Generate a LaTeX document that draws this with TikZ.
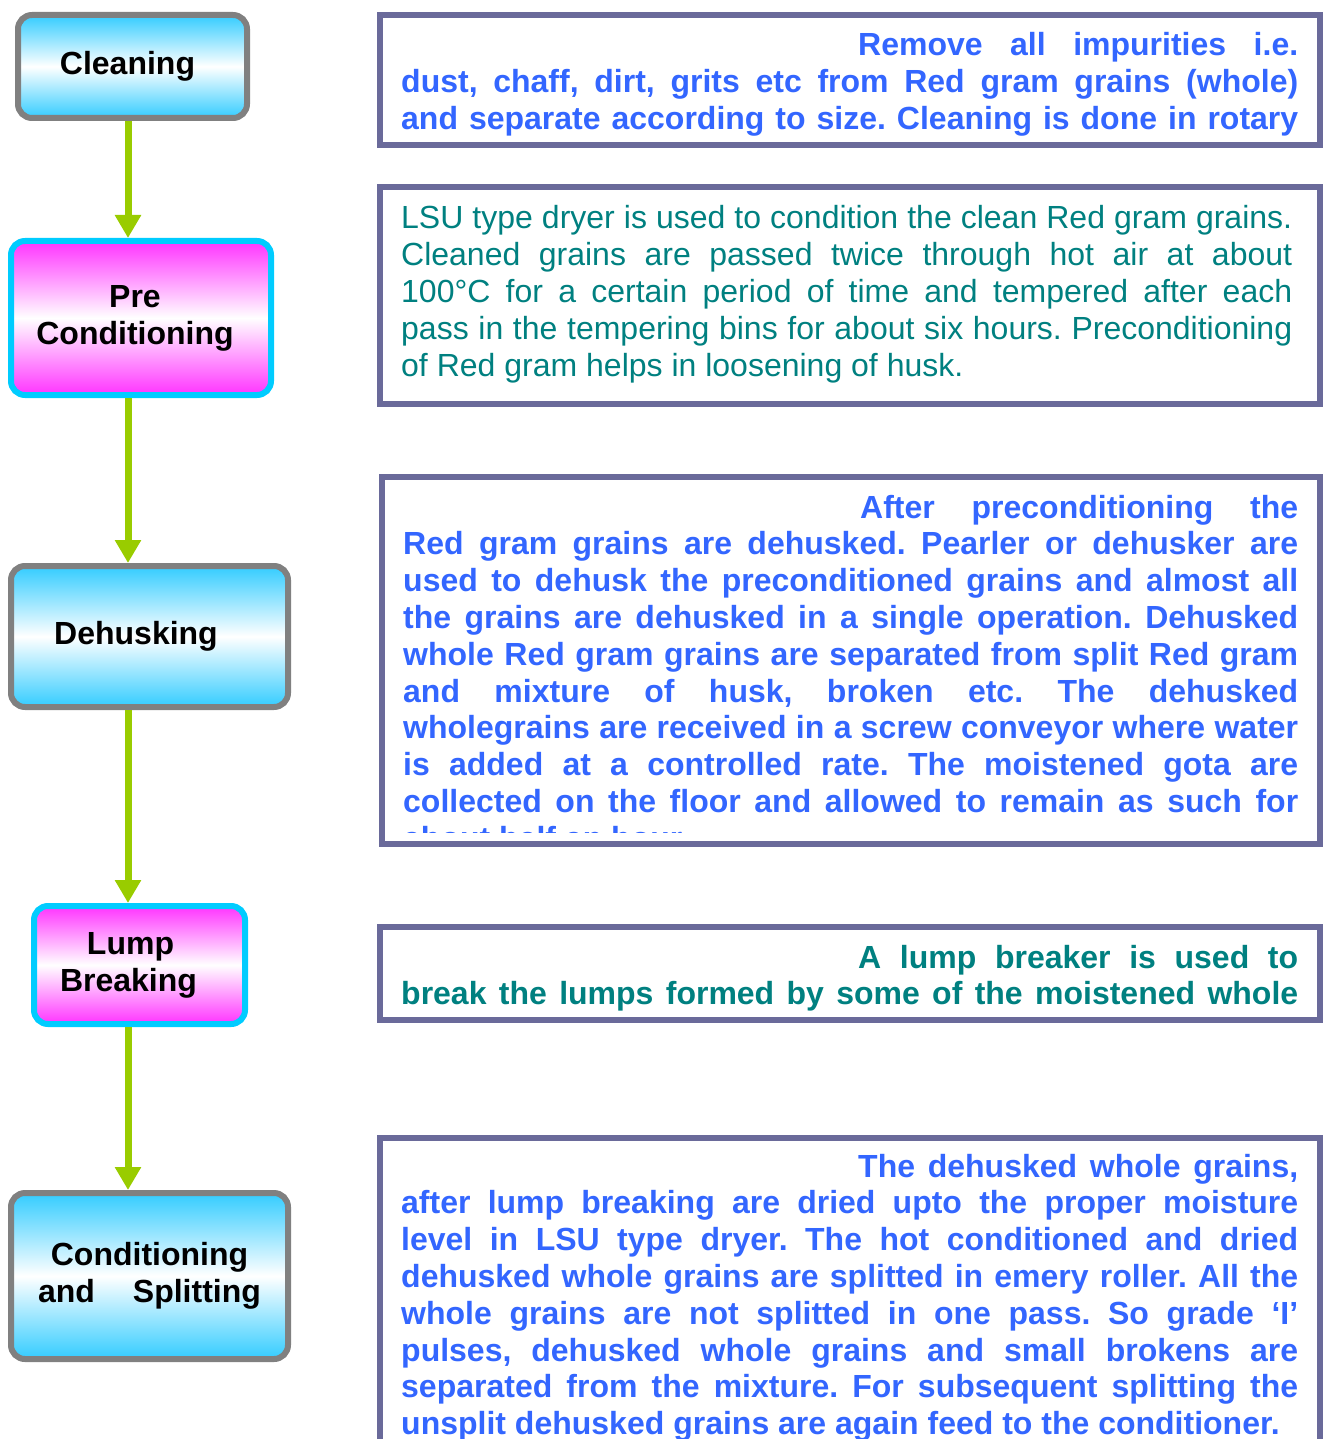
\documentclass[tikz,border=0pt]{standalone}
\usepackage{fontspec}
\setmainfont{Liberation Sans}
\usetikzlibrary{arrows.meta}

\definecolor{stepcyan}{HTML}{33CCFF}
\definecolor{stepmagenta}{HTML}{FF33FF}
\definecolor{rimcyan}{HTML}{00CCFF}
\definecolor{rimgray}{HTML}{808080}
\definecolor{flowgreen}{HTML}{99CC00}
\definecolor{framepurple}{HTML}{6A6A9A}
\definecolor{noteblue}{HTML}{3366FF}
\definecolor{noteteal}{HTML}{008080}

% spaces stretch to fill each forced line; #1 = last line fill
\newcommand\notesetup[1]{\fontsize{32}{36.8}\selectfont\frenchspacing
	\spaceskip=8.9pt plus 1fil minus 2pt\xspaceskip=\spaceskip\parfillskip=#1\relax}

\tikzset{
	stepbox/.style={draw, line width=6pt, rounded corners=14pt, align=center, inner sep=0pt,
		font=\fontsize{32}{37}\selectfont\bfseries},
	graystep/.style={stepbox, draw=rimgray, top color=stepcyan, bottom color=stepcyan, middle color=white},
	pinkstep/.style={stepbox, draw=rimcyan, top color=stepmagenta, bottom color=stepmagenta, middle color=white},
	flow/.style={draw=flowgreen, line width=7pt, -{Triangle[width=25pt,length=23pt]}},
	noteframe/.style={draw=framepurple, line width=6pt},
	note/.style={anchor=base west, inner sep=0pt, text width=897pt},
}

\begin{document}
\begin{tikzpicture}[x=1pt,y=-1pt]
	\useasboundingbox (0,0) rectangle (1330,1439);
	
	% process steps
	\node[graystep, minimum width=229pt, minimum height=103pt] (clean) at (132.5,66.5) {\hspace*{-10pt}Cleaning};
	\node[pinkstep, minimum width=260pt, minimum height=154pt] (pre) at (141,318) {\hspace*{-12pt}Pre\\\hspace*{-12pt}Conditioning};
	\node[graystep, minimum width=277pt, minimum height=141pt] (dehusk) at (149.5,636.5) {\hspace*{-27pt}Dehusking};
	\node[pinkstep, minimum width=211pt, minimum height=118pt] (lump) at (139.5,965) {\hspace*{-18pt}Lump\\\hspace*{-22pt}Breaking};
	\node[graystep, minimum width=277pt, minimum height=166pt] (split) at (149.5,1276) {Conditioning\\and\hspace*{38pt}Splitting};
	
	\coordinate (spine) at (128,0);
	\draw[flow] (clean.south -| spine) -- (pre.north -| spine);
	\draw[flow] (pre.south -| spine) -- (dehusk.north -| spine);
	\draw[flow] (dehusk.south -| spine) -- (lump.north -| spine);
	\draw[flow] (lump.south -| spine) -- (split.north -| spine);
	
	% notes
	\node[note, text=noteblue, font=\bfseries] (cleannote) at (401,56) {\notesetup{0pt}\hspace*{457pt}Remove all impurities i.e.\linebreak
		dust, chaff, dirt, grits etc from Red gram grains (whole)\linebreak
		and separate according to size. Cleaning is done in rotary\par};
	\draw[noteframe] (380,15) rectangle (1320,145);
	
	\node[note, text=noteteal, text width=891pt] (prenote) at (401,229) {\notesetup{0pt plus 1fill}LSU type dryer is used to condition the clean Red gram grains.\linebreak
		Cleaned grains are passed twice through hot air at about\linebreak
		100°C for a certain period of time and tempered after each\linebreak
		pass in the tempering bins for about six hours. Preconditioning\linebreak
		of Red gram helps in loosening of husk.\par};
	\draw[noteframe] (380,187) rectangle (1320,404);
	
	\begin{scope}
		\clip (385,480) rectangle (1317,832);
		\node[note, text=noteblue, font=\bfseries, text width=895pt] (dehusknote) at (403,518) {\notesetup{0pt plus 1fill}\hspace*{457pt}After preconditioning the\linebreak
			Red gram grains are dehusked. Pearler or dehusker are\linebreak
			used to dehusk the preconditioned grains and almost all\linebreak
			the grains are dehusked in a single operation. Dehusked\linebreak
			whole Red gram grains are separated from split Red gram\linebreak
			and mixture of husk, broken etc. The dehusked\linebreak
			wholegrains are received in a screw conveyor where water\linebreak
			is added at a controlled rate. The moistened gota are\linebreak
			collected on the floor and allowed to remain as such for\linebreak
			about half an hour.\par};
	\end{scope}
	\draw[noteframe] (382,477) rectangle (1320,844);
	
	\node[note, text=noteteal, font=\bfseries] (lumpnote) at (401,968) {\notesetup{0pt}\hspace*{457pt}A lump breaker is used to\linebreak
		break the lumps formed by some of the moistened whole\par};
	\draw[noteframe] (380,927) rectangle (1320,1020);
	
	\node[note, text=noteblue, font=\bfseries] (splitnote) at (401,1177) {\notesetup{0pt plus 1fill}\hspace*{457pt}The dehusked whole grains,\linebreak
		after lump breaking are dried upto the proper moisture\linebreak
		level in LSU type dryer. The hot conditioned and dried\linebreak
		dehusked whole grains are splitted in emery roller. All the\linebreak
		whole grains are not splitted in one pass. So grade ‘I’\linebreak
		pulses, dehusked whole grains and small brokens are\linebreak
		separated from the mixture. For subsequent splitting the\linebreak
		unsplit dehusked grains are again feed to the conditioner.\par};
	\draw[noteframe] (380,1138) rectangle (1320,1470);
	
\end{tikzpicture}
\end{document}
